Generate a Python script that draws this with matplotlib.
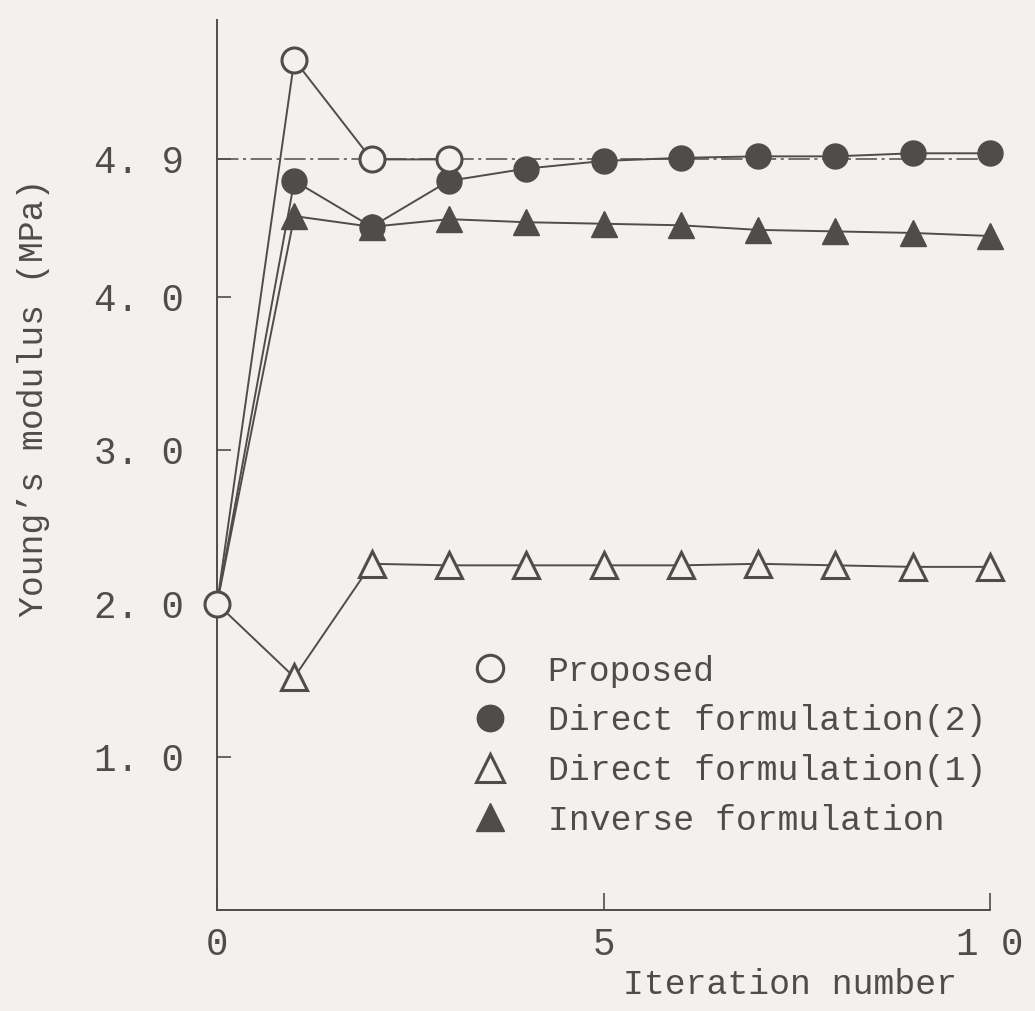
import matplotlib as mpl
import matplotlib.pyplot as plt
from matplotlib.lines import Line2D

# 반복 횟수
iteration = [0, 1, 2, 3, 4, 5, 6, 7, 8, 9, 10]
proposed_iter = [0, 1, 2, 3]

# 각 방법별 영률 (MPa)
proposed = [2.0, 5.55, 4.9, 4.9]
direct_2 = [2.0, 4.76, 4.46, 4.76, 4.84, 4.89, 4.91, 4.92, 4.92, 4.94, 4.94]
direct_1 = [2.0, 1.52, 2.26, 2.25, 2.25, 2.25, 2.25, 2.26, 2.25, 2.24, 2.24]
inverse = [2.0, 4.53, 4.46, 4.51, 4.49, 4.48, 4.47, 4.44, 4.43, 4.42, 4.40]

true_value = 4.9

y_ticks = [1.0, 2.0, 3.0, 4.0, 4.9]
y_tick_labels = ['1. 0', '2. 0', '3. 0', '4. 0', '4. 9']
x_ticks = [0, 5, 10]
x_tick_labels = ['0', '5', '1 0']

labels = ['Proposed', 'Direct formulation(2)', 'Direct formulation(1)', 'Inverse formulation']

# 기본 설정
paper = '#f3f1f0'
ink = '#4f4c4c'
mpl.rcParams['font.family'] = ['Liberation Mono', 'DejaVu Sans Mono']
mpl.rcParams['text.color'] = ink

fig = plt.figure(figsize=(10.35, 10.11), dpi=100, facecolor=paper)
ax = fig.add_axes([0.2097, 0.0999, 0.7468, 0.8803], facecolor=paper)

lw = 1.4
ms_c = 18
ms_t = 19
mew = 2.2

# 기준선 (4.9)
ax.plot([0, 10], [true_value, true_value], color=ink, lw=1.1,
        dashes=(14, 3, 2, 3), zorder=1)

# 역해석
ax.plot(iteration, inverse, color=ink, lw=lw, marker='^', ms=ms_t,
        mfc=ink, mec=ink, markevery=list(range(1, 11)), clip_on=False, zorder=2)
# 직접해석 (1)
ax.plot(iteration, direct_1, color=ink, lw=lw, marker='^', ms=ms_t,
        mfc=paper, mec=ink, mew=mew, markevery=list(range(1, 11)),
        clip_on=False, zorder=3)
# 직접해석 (2)
ax.plot(iteration, direct_2, color=ink, lw=lw, marker='o', ms=ms_c,
        mfc=ink, mec=ink, markevery=list(range(1, 11)), clip_on=False, zorder=4)
# 제안 방법
ax.plot(proposed_iter, proposed, color=ink, lw=lw, marker='o', ms=ms_c,
        mfc=paper, mec=ink, mew=mew, clip_on=False, zorder=5)

# 축 설정
ax.set_xlim(0, 10)
ax.set_ylim(0, 5.81)
for side in ['top', 'right']:
    ax.spines[side].set_visible(False)
for side in ['left', 'bottom']:
    ax.spines[side].set_color(ink)
    ax.spines[side].set_linewidth(1.4)

ax.set_yticks(y_ticks)
ax.set_yticklabels(y_tick_labels)
ax.set_xticks(x_ticks)
ax.set_xticklabels(x_tick_labels)
ax.tick_params(axis='y', direction='in', length=10, width=1.2, color=ink,
               labelsize=27, labelcolor=ink, pad=24)
ax.tick_params(axis='x', direction='in', length=12, width=1.2, color=ink,
               labelsize=27, labelcolor=ink, pad=12)

ax.set_ylabel('Young\u2019s modulus (MPa)', fontsize=25, color=ink)
ax.yaxis.set_label_coords(-0.216, 0.575)
ax.set_xlabel('Iteration number', fontsize=25, color=ink)
ax.xaxis.label.set_va('center')
ax.xaxis.set_label_coords(0.741, -0.084)

# 범례 (마커만)
handles = [
    Line2D([], [], ls='none', marker='o', ms=ms_c + 1, mfc=paper, mec=ink, mew=mew),
    Line2D([], [], ls='none', marker='o', ms=ms_c + 1, mfc=ink, mec=ink),
    Line2D([], [], ls='none', marker='^', ms=ms_t + 1, mfc=paper, mec=ink, mew=mew),
    Line2D([], [], ls='none', marker='^', ms=ms_t + 1, mfc=ink, mec=ink),
]
ax.legend(handles, labels, loc='upper left', bbox_to_anchor=(0.331, 0.287),
          frameon=False, fontsize=25, borderpad=0, borderaxespad=0,
          handlelength=1.0, handletextpad=1.15, labelspacing=0.48,
          labelcolor=ink)

fig.savefig('out.png', dpi=100, facecolor=paper)
